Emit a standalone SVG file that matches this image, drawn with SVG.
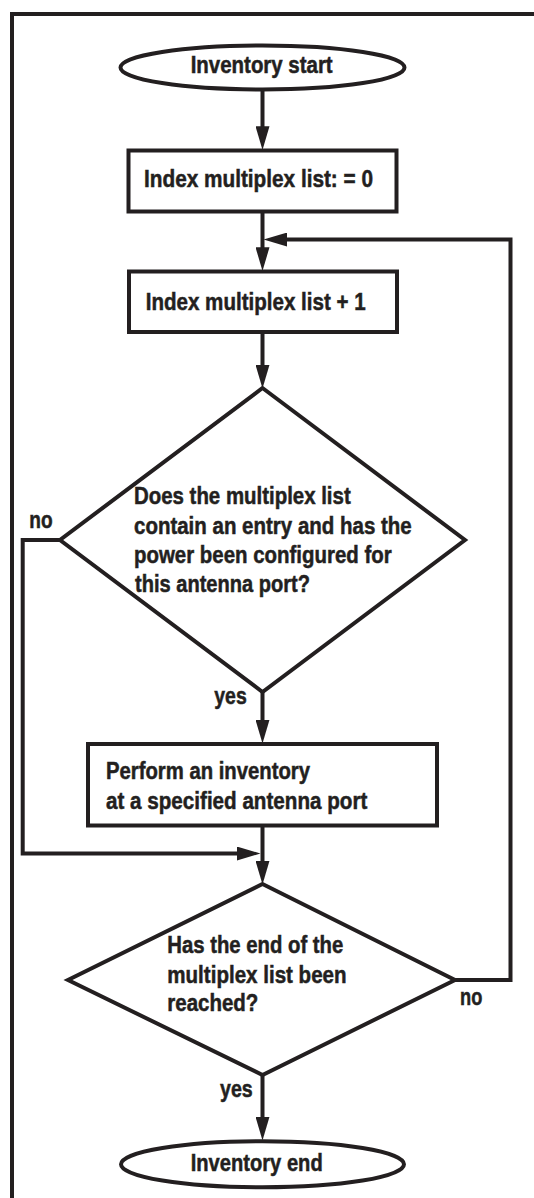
<svg xmlns="http://www.w3.org/2000/svg" width="534" height="1198" viewBox="0 0 534 1198">
<style>
.shape{fill:#fff;stroke:#231f20;stroke-width:4}
.line{fill:none;stroke:#231f20;stroke-width:4;stroke-linejoin:miter}
.t{font-family:"Liberation Sans",Arial,sans-serif;font-weight:bold;font-size:23.5px;fill:#231f20;stroke:#231f20;stroke-width:0.5}
</style>
<defs>
<marker id="arr" markerUnits="userSpaceOnUse" markerWidth="24" markerHeight="14" viewBox="0 0 22 13" refX="3" refY="6.5" orient="auto">
<path d="M0,0 L22,6.5 L0,13 Z" fill="#231f20"/>
</marker>
</defs>
<rect width="534" height="1198" fill="#fff"/>
<path id="frame" class="line" d="M12,1198 V14 H534"/>
<g id="connectors">
<path class="line" d="M262.5,89 V129.5" marker-end="url(#arr)"/>
<path class="line" d="M262.5,211.5 V250.5" marker-end="url(#arr)"/>
<path class="line" d="M455,980 H510.5 V239.5 H284" marker-end="url(#arr)"/>
<path class="line" d="M262.5,332 V368" marker-end="url(#arr)"/>
<path class="line" d="M262.5,692 V723" marker-end="url(#arr)"/>
<path class="line" d="M262.5,825.5 V864" marker-end="url(#arr)"/>
<path class="line" d="M60,540 H22.7 V853.5 H240" marker-end="url(#arr)"/>
<path class="line" d="M262.5,1075 V1120" marker-end="url(#arr)"/>
<text class="t" x="29.3" y="528.3" textLength="23.3" lengthAdjust="spacingAndGlyphs">no</text>
<text class="t" x="214.3" y="704" textLength="32.4" lengthAdjust="spacingAndGlyphs">yes</text>
<text class="t" x="460" y="1005" textLength="22.3" lengthAdjust="spacingAndGlyphs">no</text>
<text class="t" x="220" y="1096.7" textLength="32.7" lengthAdjust="spacingAndGlyphs">yes</text>
</g>
<g id="start">
<ellipse class="shape" cx="262.5" cy="67.5" rx="142" ry="22"/>
<text class="t" x="261.7" y="73.3" text-anchor="middle" textLength="142" lengthAdjust="spacingAndGlyphs">Inventory start</text>
</g>
<g id="init">
<rect class="shape" x="128.5" y="150.5" width="268" height="61"/>
<text class="t" x="144" y="186.7" textLength="229" lengthAdjust="spacingAndGlyphs">Index multiplex list: = 0</text>
</g>
<g id="increment">
<rect class="shape" x="129" y="271.5" width="268" height="60.5"/>
<text class="t" x="145.7" y="310" textLength="220" lengthAdjust="spacingAndGlyphs">Index multiplex list + 1</text>
</g>
<g id="check-entry">
<polygon class="shape" points="262.5,388 465,540 262.5,692 60,540"/>
<text class="t" x="134" y="504" textLength="216.7" lengthAdjust="spacingAndGlyphs">Does the multiplex list</text>
<text class="t" x="134" y="534" textLength="277.7" lengthAdjust="spacingAndGlyphs">contain an entry and has the</text>
<text class="t" x="134" y="563" textLength="257.7" lengthAdjust="spacingAndGlyphs">power been configured for</text>
<text class="t" x="135" y="592" textLength="175" lengthAdjust="spacingAndGlyphs">this antenna port?</text>
</g>
<g id="perform">
<rect class="shape" x="88" y="744" width="349" height="81.5"/>
<text class="t" x="106" y="779.3" textLength="204" lengthAdjust="spacingAndGlyphs">Perform an inventory</text>
<text class="t" x="106" y="809.3" textLength="261.3" lengthAdjust="spacingAndGlyphs">at a specified antenna port</text>
</g>
<g id="check-end">
<polygon class="shape" points="262.5,884 455,980 262.5,1075 68,980"/>
<text class="t" x="167.3" y="953.3" textLength="176" lengthAdjust="spacingAndGlyphs">Has the end of the</text>
<text class="t" x="167.3" y="982.7" textLength="179.3" lengthAdjust="spacingAndGlyphs">multiplex list been</text>
<text class="t" x="167.3" y="1010.7" textLength="91" lengthAdjust="spacingAndGlyphs">reached?</text>
</g>
<g id="end">
<ellipse class="shape" cx="262.5" cy="1164.3" rx="141.5" ry="23"/>
<text class="t" x="256.7" y="1170.7" text-anchor="middle" textLength="132" lengthAdjust="spacingAndGlyphs">Inventory end</text>
</g>
</svg>
